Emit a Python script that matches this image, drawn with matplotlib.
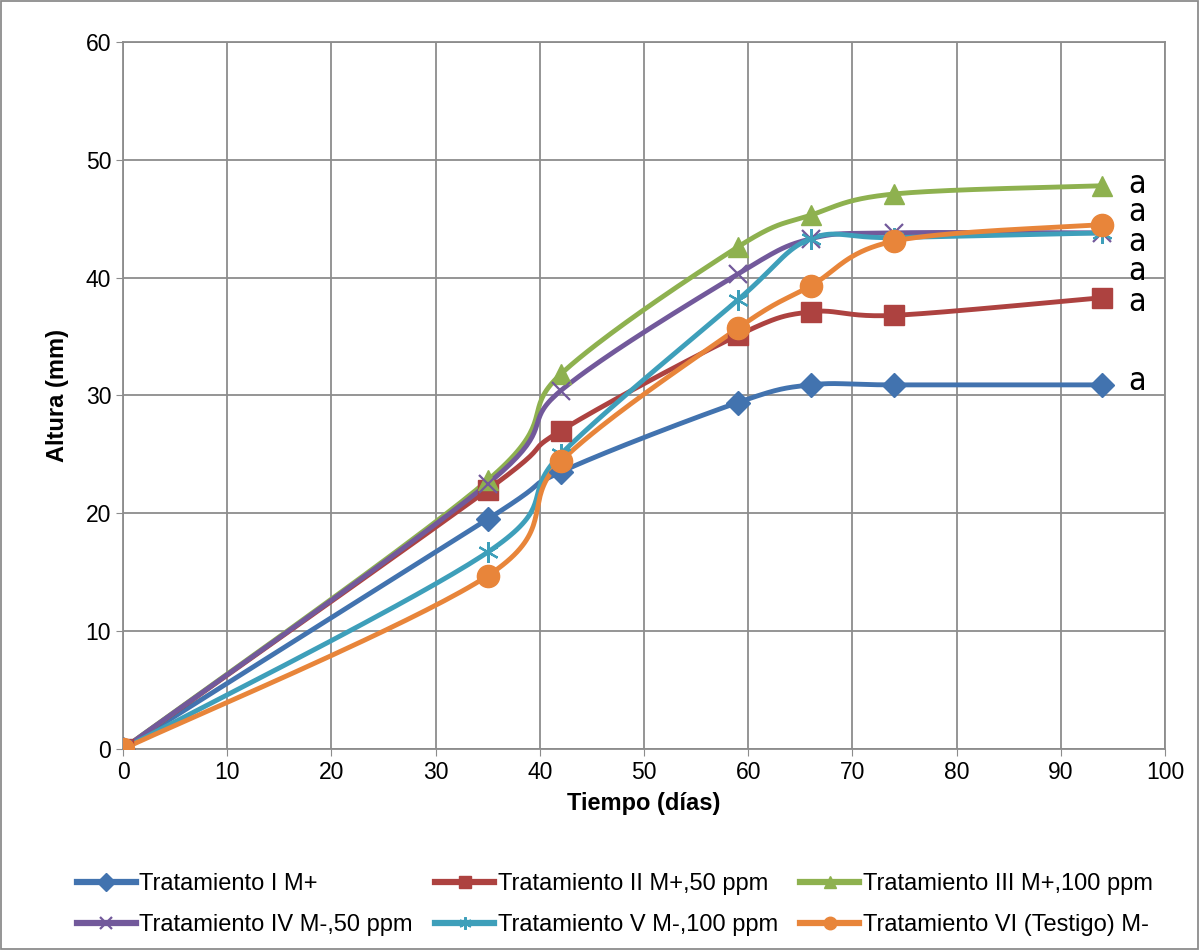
import matplotlib
matplotlib.use("Agg")
import matplotlib.pyplot as plt
import numpy as np
from matplotlib.patches import Rectangle

plt.rcParams['font.family'] = ['Liberation Sans', 'DejaVu Sans']

# Données
dias = [0, 35, 42, 59, 66, 74, 94]
trat_I = [0, 19.5, 23.5, 29.4, 30.9, 30.9, 30.9]
trat_II = [0, 22.0, 27.0, 35.1, 37.1, 36.8, 38.3]
trat_III = [0, 22.8, 31.8, 42.6, 45.3, 47.1, 47.8]
trat_IV = [0, 22.5, 30.4, 40.3, 43.3, 43.8, 43.8]
trat_V = [0, 16.7, 25.0, 38.1, 43.3, 43.4, 43.8]
trat_VI = [0, 14.7, 24.4, 35.7, 39.3, 43.1, 44.5]

noms = ['Tratamiento I M+', 'Tratamiento II M+,50 ppm', 'Tratamiento III M+,100 ppm',
        'Tratamiento IV M-,50 ppm', 'Tratamiento V M-,100 ppm', 'Tratamiento VI (Testigo) M-']
lettres = ['a', 'a', 'a', 'a', 'a', 'a']
y_lettres = [47.9, 45.5, 43.0, 40.5, 37.9, 31.2]

couleurs = ['#4273AF', '#AD4240', '#8EB14F', '#72599B', '#3E9FBA', '#E8853A']
marqueurs = ['D', 's', '^', 'x', (6, 2, 0), 'o']
tailles = [12, 14, 15, 13, 15, 16]


# Courbe lissée type Excel (Bezier / Catmull-Rom)
def lisser(x, y, n=40):
    p = np.column_stack([x, y]).astype(float)
    pts = []
    for i in range(len(p) - 1):
        p0 = p[i - 1] if i > 0 else p[i]
        p1 = p[i]
        p2 = p[i + 1]
        p3 = p[i + 2] if i + 2 < len(p) else p[i + 1]
        c1 = p1 + (p2 - p0) / 6
        c2 = p2 - (p3 - p1) / 6
        t = np.linspace(0, 1, n)[:, None]
        b = (1 - t) ** 3 * p1 + 3 * (1 - t) ** 2 * t * c1 + 3 * (1 - t) * t ** 2 * c2 + t ** 3 * p2
        pts.append(b)
    pts = np.vstack(pts)
    return pts[:, 0], pts[:, 1]


fig = plt.figure(figsize=(11.99, 9.5), dpi=100)
ax = fig.add_axes([0.1026, 0.2116, 0.869, 0.7442])

series = [trat_I, trat_II, trat_III, trat_IV, trat_V, trat_VI]
handles = []
for vals, nom, c, m, ms in zip(series, noms, couleurs, marqueurs, tailles):
    xs, ys = lisser(dias, vals)
    ax.plot(xs, ys, color=c, lw=3.5, zorder=3)
    fin = m in ('x',) or isinstance(m, tuple)
    ax.plot(dias, vals, linestyle='none', marker=m, color=c, markersize=ms,
            markeredgewidth=1.6 if fin else 1, zorder=4)
    h, = ax.plot([], [], color=c, lw=4.5, marker=m, markersize=9,
                 markeredgewidth=1.6 if fin else 1, label=nom)
    handles.append(h)

for l, yl in zip(lettres, y_lettres):
    ax.text(97.3, yl, l, fontsize=23, ha='center', va='center',
            family=['DejaVu Sans'], stretch='condensed')

ax.set_xlim(0, 100)
ax.set_ylim(0, 60)
ax.set_xticks(np.arange(0, 101, 10))
ax.set_yticks(np.arange(0, 61, 10))
ax.grid(True, color='#8C8C8C', lw=1.3)
ax.set_axisbelow(True)
for s in ax.spines.values():
    s.set_color('#8C8C8C')
    s.set_linewidth(1.3)
ax.tick_params(labelsize=16.5, colors='#8C8C8C', labelcolor='black', length=5)
ax.set_xlabel('Tiempo (días)', fontsize=17, fontweight='bold', labelpad=6)
ax.set_ylabel('Altura (mm)', fontsize=17, fontweight='bold', labelpad=12)

# ordre des entrées : remplissage par colonnes -> I, IV, II, V, III, VI
ordre = [0, 3, 1, 4, 2, 5]
fig.legend(handles=[handles[i] for i in ordre], loc='lower left',
           bbox_to_anchor=(0.052, 0.0), ncol=3, frameon=False, fontsize=17,
           handlelength=2.5, handletextpad=0.15, columnspacing=0.95,
           labelspacing=0.8, borderaxespad=0.2)

fig.patches.append(Rectangle((0.001, 0.001), 0.998, 0.998, transform=fig.transFigure,
                             fill=False, edgecolor='#8C8C8C', lw=1.3))

fig.savefig('out.png', dpi=100)
